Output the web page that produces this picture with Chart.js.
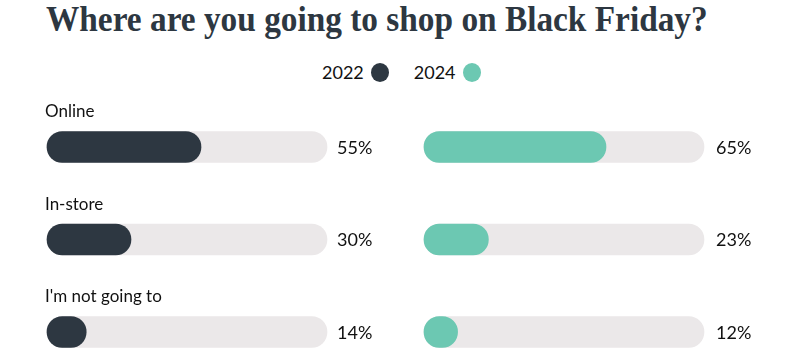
<!DOCTYPE html>
<html lang="en">
<head>
<meta charset="UTF-8">
<title>Where are you going to shop on Black Friday?</title>
<script src="https://cdn.jsdelivr.net/npm/chart.js"></script>
<style>
  body { margin: 0; background: #fff; }
  #wrap { position: relative; width: 800px; height: 362px; overflow: hidden; }
  #title { position: absolute; left: 46px; top: 1px; margin: 0; white-space: nowrap;
           font-family: "Liberation Serif", serif; font-weight: bold; font-size: 36px; color: #2d3741;
           transform: scaleY(1.08); transform-origin: 0 80%; }
  #legend { position: absolute; top: 61px; left: 322px; display: flex; align-items: center;
            font-family: Lato, sans-serif; font-size: 18px; color: #111; }
  #legend .dot { display: inline-block; width: 18px; height: 19px; border-radius: 50%; margin-left: 7px; }
  #legend .item { display: flex; align-items: center; margin-right: 25px; }
  canvas { position: absolute; top: 0; }
</style>
</head>
<body>
<div id="wrap">
  <h1 id="title">Where are you going to shop on Black Friday?</h1>
  <div id="legend"></div>
  <canvas id="left" width="400" height="362" style="left:0"></canvas>
  <canvas id="right" width="400" height="362" style="left:400px"></canvas>
</div>
<script>
// data
const categories = ['Online', 'In-store', "I'm not going to"];
const seriesNames = ['2022', '2024'];
const values2022 = [55, 30, 14];
const values2024 = [65, 23, 12];
const fullScale = 100;

const colors = ['#2d3741', '#6cc8b2'];
const trackColor = '#ebe8e9';

// fit title width to the reference
const title = document.getElementById('title');
const targetW = 662;
const w = title.getBoundingClientRect().width;
title.style.fontSize = (36 * targetW / w).toFixed(2) + 'px';

// legend (text first, dot after)
const legend = document.getElementById('legend');
seriesNames.forEach((name, i) => {
  legend.innerHTML += `<span class="item">${name}<span class="dot" style="background:${colors[i]}"></span></span>`;
});

const barLabels = {
  id: 'barLabels',
  afterDatasetsDraw(chart, args, opts) {
    const ctx = chart.ctx;
    const meta = chart.getDatasetMeta(0);
    const xEnd = chart.scales.x.getPixelForValue(fullScale);
    ctx.save();
    ctx.fillStyle = '#111';
    ctx.textBaseline = 'middle';
    ctx.textAlign = 'left';
    meta.data.forEach((bar, i) => {
      ctx.font = '18px Lato, sans-serif';
      ctx.fillText(opts.values[i] + '%', xEnd + opts.gap, bar.y + 1);
      if (opts.showCategories) {
        ctx.font = '17px Lato, sans-serif';
        ctx.fillText(categories[i], chart.chartArea.left - 2, bar.y - 35);
      }
    });
    ctx.restore();
  }
};

function makeChart(id, name, values, color, pad, gap, showCategories) {
  return new Chart(document.getElementById(id), {
    type: 'bar',
    data: {
      labels: categories,
      datasets: [
        {
          label: name,
          data: values,
          backgroundColor: color,
          order: 0,
          grouped: false,
          barThickness: 31,
          borderRadius: 16,
          borderSkipped: false,
          clip: false
        },
        {
          label: 'track',
          data: categories.map(() => fullScale),
          backgroundColor: trackColor,
          order: 1,
          grouped: false,
          barThickness: 31,
          borderRadius: 16,
          borderSkipped: false,
          clip: false
        }
      ]
    },
    options: {
      indexAxis: 'y',
      responsive: false,
      animation: false,
      devicePixelRatio: 1,
      layout: { padding: pad },
      scales: {
        x: { display: false, min: 0, max: fullScale },
        y: { display: false, offset: false }
      },
      plugins: {
        legend: { display: false },
        tooltip: { enabled: false },
        barLabels: { values: values, gap: gap, showCategories: showCategories }
      }
    },
    plugins: [barLabels]
  });
}

makeChart('left', seriesNames[0], values2022, colors[0],
  { left: 47, right: 73, top: 147, bottom: 30 }, 10, true);
makeChart('right', seriesNames[1], values2024, colors[1],
  { left: 24, right: 96, top: 147, bottom: 30 }, 12, false);
</script>
</body>
</html>
